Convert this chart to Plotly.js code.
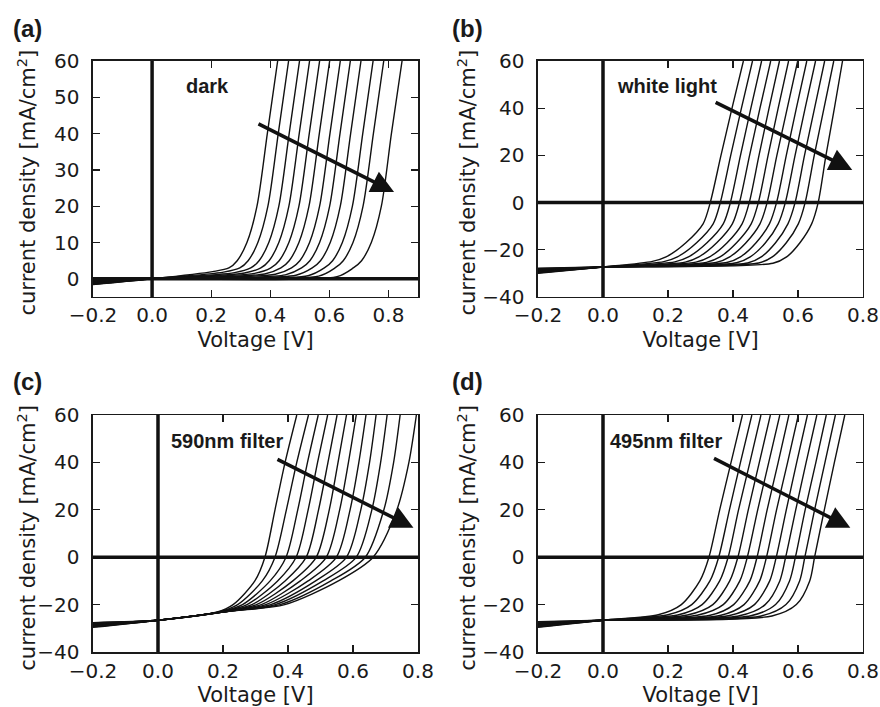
<!DOCTYPE html>
<html>
<head>
<meta charset="utf-8">
<script src="https://cdn.plot.ly/plotly-3.0.1.min.js"></script>
<style>html,body{margin:0;padding:0;background:#fff;}#chart{width:880px;height:707px;}</style>
</head>
<body>
<div id="chart"></div>
<script>
// ---------- DATA ----------
// Each panel: 12 J–V curves. For every curve, the voltage (V) at which it reaches a given current density level (mA/cm²).

// (a) dark
const aVleft = -0.2, aVzero = 0.0, aJzero = 0.0;
const aJleft = [-1.6, -1.5, -1.4, -1.3, -1.2, -1.1, -1.0, -0.9, -0.8, -0.7, -0.55, -0.4];
const aVknee = [0.205, 0.242, 0.279, 0.313, 0.347, 0.381, 0.417, 0.451, 0.487, 0.528, 0.564, 0.626];
const aJknee = [2.0, 1.85, 1.7, 1.6, 1.5, 1.35, 1.25, 1.1, 1.0, 0.85, 0.75, 0.6];
const aV3  = [0.260, 0.297, 0.334, 0.368, 0.402, 0.436, 0.472, 0.506, 0.542, 0.583, 0.619, 0.681];
const aV5  = [0.288, 0.325, 0.362, 0.396, 0.430, 0.464, 0.500, 0.534, 0.570, 0.611, 0.647, 0.709];
const aV10 = [0.321, 0.358, 0.395, 0.429, 0.463, 0.497, 0.533, 0.567, 0.603, 0.644, 0.680, 0.742];
const aV20 = [0.355, 0.392, 0.429, 0.463, 0.497, 0.531, 0.567, 0.601, 0.637, 0.678, 0.714, 0.776];
const aV40 = [0.390, 0.427, 0.464, 0.498, 0.532, 0.566, 0.602, 0.636, 0.672, 0.713, 0.749, 0.810];
const aV60 = [0.425, 0.462, 0.499, 0.533, 0.567, 0.601, 0.637, 0.671, 0.707, 0.748, 0.784, 0.846];

// (b) white light
const bJleft = [-30.0, -29.8, -29.6, -29.4, -29.2, -29.0, -28.8, -28.6, -28.4, -28.2, -28.0, -27.8];
const bJzero = -27.3;
const bVmerge = [0.152, 0.187, 0.221, 0.253, 0.286, 0.318, 0.348, 0.381, 0.411, 0.445, 0.479, 0.523];
const bJmerge = [-24.9, -25.0, -25.1, -25.2, -25.2, -25.3, -25.4, -25.4, -25.5, -25.6, -25.6, -25.7];
const bVm23 = [0.194, 0.229, 0.263, 0.295, 0.328, 0.360, 0.390, 0.423, 0.453, 0.487, 0.521, 0.565];
const bVm17 = [0.255, 0.288, 0.320, 0.350, 0.382, 0.411, 0.440, 0.471, 0.500, 0.531, 0.564, 0.606];
const bVm9  = [0.308, 0.339, 0.370, 0.398, 0.428, 0.456, 0.483, 0.512, 0.539, 0.569, 0.601, 0.642];
const bV0   = [0.330, 0.361, 0.392, 0.420, 0.450, 0.478, 0.505, 0.534, 0.561, 0.591, 0.622, 0.662];
const bV20  = [0.363, 0.393, 0.423, 0.451, 0.480, 0.508, 0.535, 0.564, 0.591, 0.620, 0.650, 0.686];
const bV40  = [0.397, 0.426, 0.455, 0.483, 0.511, 0.539, 0.567, 0.595, 0.622, 0.651, 0.680, 0.712];
const bV60  = [0.432, 0.460, 0.488, 0.516, 0.543, 0.571, 0.599, 0.627, 0.654, 0.682, 0.710, 0.737];

// (c) 590nm filter
const cJleft = [-29.6, -29.4, -29.2, -29.0, -28.8, -28.6, -28.4, -28.2, -28.0, -27.8, -27.7, -27.6];
const cJzero = -26.6;
const cVmerge = [0.180, 0.184, 0.187, 0.191, 0.195, 0.198, 0.202, 0.205, 0.209, 0.213, 0.216, 0.220];
const cJmerge = [-23.2, -23.2, -23.2, -23.1, -23.1, -23.0, -23.0, -23.0, -22.9, -22.9, -22.8, -22.8];
const cVm20 = [0.231, 0.245, 0.260, 0.274, 0.289, 0.303, 0.318, 0.332, 0.347, 0.361, 0.376, 0.390];
const cVm10 = [0.298, 0.321, 0.345, 0.368, 0.391, 0.415, 0.438, 0.462, 0.485, 0.508, 0.532, 0.555];
const cV0   = [0.329, 0.360, 0.394, 0.425, 0.456, 0.487, 0.518, 0.549, 0.580, 0.610, 0.638, 0.662];
const cV20  = [0.360, 0.395, 0.430, 0.462, 0.494, 0.527, 0.559, 0.591, 0.624, 0.658, 0.695, 0.735];
const cV40  = [0.391, 0.427, 0.460, 0.491, 0.523, 0.554, 0.586, 0.618, 0.651, 0.685, 0.725, 0.772];
const cV60  = [0.427, 0.463, 0.493, 0.522, 0.551, 0.580, 0.610, 0.640, 0.671, 0.705, 0.745, 0.795];

// (d) 495nm filter
const dJleft = [-29.6, -29.4, -29.2, -29.0, -28.8, -28.6, -28.3, -28.1, -27.9, -27.7, -27.4, -27.2];
const dJzero = -26.6;
const dVmerge = [0.170, 0.200, 0.230, 0.260, 0.290, 0.330, 0.360, 0.390, 0.420, 0.455, 0.487, 0.520];
const dJmerge = [-24.3, -24.3, -24.4, -24.4, -24.5, -24.5, -24.6, -24.6, -24.7, -24.7, -24.8, -24.8];
const dVm20 = [0.241, 0.273, 0.305, 0.338, 0.370, 0.402, 0.434, 0.466, 0.499, 0.531, 0.563, 0.595];
const dVm10 = [0.298, 0.329, 0.359, 0.390, 0.421, 0.452, 0.482, 0.513, 0.544, 0.574, 0.605, 0.636];
const dV0   = [0.326, 0.356, 0.385, 0.415, 0.444, 0.474, 0.503, 0.533, 0.562, 0.592, 0.621, 0.651];
const dV20  = [0.359, 0.389, 0.417, 0.447, 0.476, 0.505, 0.534, 0.564, 0.593, 0.622, 0.651, 0.681];
const dV40  = [0.394, 0.423, 0.452, 0.481, 0.510, 0.539, 0.568, 0.596, 0.625, 0.655, 0.683, 0.712];
const dV60  = [0.429, 0.458, 0.486, 0.515, 0.544, 0.572, 0.601, 0.629, 0.658, 0.687, 0.715, 0.744];

// labels
const panelLabels = ['(a)', '(b)', '(c)', '(d)'];
const conditionLabels = ['dark', 'white light', '590nm filter', '495nm filter'];
const xTitle = 'Voltage [V]';
const yTitle = 'current density [mA/cm<sup>2</sup>]';

// ---------- BUILD ----------
// each column: [V value(s), J value(s)]
const panels = [
  {xa: 'x',  ya: 'y',  cols: [[aVleft, aJleft], [aVzero, aJzero], [aVknee, aJknee], [aV3, 3], [aV5, 5], [aV10, 10], [aV20, 20], [aV40, 40], [aV60, 60]]},
  {xa: 'x2', ya: 'y2', cols: [[-0.2, bJleft], [0, bJzero], [bVmerge, bJmerge], [bVm23, -23], [bVm17, -17], [bVm9, -9], [bV0, 0], [bV20, 20], [bV40, 40], [bV60, 60]]},
  {xa: 'x3', ya: 'y3', cols: [[-0.2, cJleft], [0, cJzero], [cVmerge, cJmerge], [cVm20, -20], [cVm10, -10], [cV0, 0], [cV20, 20], [cV40, 40], [cV60, 60]]},
  {xa: 'x4', ya: 'y4', cols: [[-0.2, dJleft], [0, dJzero], [dVmerge, dJmerge], [dVm20, -20], [dVm10, -10], [dV0, 0], [dV20, 20], [dV40, 40], [dV60, 60]]}
];
const pick = (c, i) => Array.isArray(c) ? c[i] : c;

const traces = [];
panels.forEach(p => {
  for (let i = 0; i < 12; i++) {
    traces.push({
      type: 'scatter', mode: 'lines',
      x: p.cols.map(c => pick(c[0], i)),
      y: p.cols.map(c => pick(c[1], i)),
      xaxis: p.xa, yaxis: p.ya,
      line: {color: '#111', width: 1.4, shape: 'spline', smoothing: 0.8},
      hoverinfo: 'skip', showlegend: false
    });
  }
});

const FONT = 'DejaVu Sans, Bitstream Vera Sans, sans-serif';
const LABFONT = 'Liberation Sans, Arial, Helvetica, sans-serif';

function xax(dom, anchor, range, standoff) {
  return {
    domain: dom, anchor: anchor, range: range, dtick: 0.2, tick0: 0, tickformat: '.1f',
    showline: true, mirror: 'ticks', linecolor: '#1a1a1a', linewidth: 1.5,
    ticks: 'inside', ticklen: 7, tickwidth: 1.2, tickcolor: '#1a1a1a',
    showgrid: false, zeroline: false,
    tickfont: {family: FONT, size: 20, color: '#1a1a1a'}, ticklabelstandoff: 0,
    title: {text: xTitle, font: {family: FONT, size: 21, color: '#1a1a1a'}, standoff: standoff},
    automargin: false, fixedrange: true
  };
}
function yax(dom, anchor, range, dtick) {
  return {
    domain: dom, anchor: anchor, range: range, dtick: dtick,
    showline: true, mirror: 'ticks', linecolor: '#1a1a1a', linewidth: 1.5,
    ticks: 'inside', ticklen: 7, tickwidth: 1.2, tickcolor: '#1a1a1a',
    showgrid: false, zeroline: false,
    tickfont: {family: FONT, size: 20, color: '#1a1a1a'}, ticklabelstandoff: 8,
    automargin: false, fixedrange: true
  };
}

const XL = [0.10568, 0.475], XR = [0.61136, 0.98068];
const YT = [0.57992, 0.91372], YB = [0.07779, 0.41301];

// thick zero lines as shapes (drawn above curves)
const shapes = [];
[['x', 'y'], ['x2', 'y2'], ['x3', 'y3'], ['x4', 'y4']].forEach(([xa, ya]) => {
  shapes.push({type: 'line', xref: xa + ' domain', yref: ya, x0: 0, x1: 1, y0: 0, y1: 0, line: {color: '#111', width: 3.5}, layer: 'above'});
  shapes.push({type: 'line', xref: xa, yref: ya + ' domain', x0: 0, x1: 0, y0: 0, y1: 1, line: {color: '#111', width: 3.5}, layer: 'above'});
});

const annotations = [];
// panel labels
[[0.0307, 0.959], [0.5307, 0.959], [0.0307, 0.4597], [0.5307, 0.4597]].forEach((pos, k) => {
  annotations.push({xref: 'paper', yref: 'paper', x: pos[0], y: pos[1], text: '<b>' + panelLabels[k] + '</b>',
    showarrow: false, font: {family: LABFONT, size: 24, color: '#1a1a1a'}, xanchor: 'center', yanchor: 'middle'});
});
// y-axis titles (rotated)
[[0.0307, 0.7419], [0.5307, 0.7419], [0.0303, 0.2390], [0.5303, 0.2390]].forEach(pos => {
  annotations.push({xref: 'paper', yref: 'paper', x: pos[0], y: pos[1], text: yTitle, textangle: -90,
    showarrow: false, font: {family: FONT, size: 21, color: '#1a1a1a'}, xanchor: 'center', yanchor: 'middle'});
});
// condition labels and arrows
const textPos = [[0.188, 53.1], [0.197, 49.4], [0.213, 48.9], [0.195, 48.9]];
const arrowTail = [[0.355, 42.9], [0.342, 42.8], [0.363, 41.6], [0.337, 42.0]];
const arrowTip = [[0.819, 23.9], [0.767, 13.8], [0.786, 12.4], [0.761, 12.4]];
['', '2', '3', '4'].forEach((s, k) => {
  annotations.push({xref: 'x' + s, yref: 'y' + s, x: textPos[k][0], y: textPos[k][1], text: '<b>' + conditionLabels[k] + '</b>',
    showarrow: false, font: {family: LABFONT, size: 20, color: '#1a1a1a'}, xanchor: 'center', yanchor: 'middle'});
  annotations.push({xref: 'x' + s, yref: 'y' + s, axref: 'x' + s, ayref: 'y' + s,
    x: arrowTip[k][0], y: arrowTip[k][1], ax: arrowTail[k][0], ay: arrowTail[k][1],
    text: '', showarrow: true, arrowhead: 2, arrowsize: 1.3, arrowwidth: 3.5, arrowcolor: '#111'});
});

const layout = {
  width: 880, height: 707,
  margin: {l: 0, r: 0, t: 0, b: 0},
  paper_bgcolor: '#fff', plot_bgcolor: '#fff',
  showlegend: false,
  xaxis: xax(XL, 'y', [-0.2, 0.9], 6),
  yaxis: yax(YT, 'x', [-5, 60], 10),
  xaxis2: xax(XR, 'y2', [-0.2, 0.8], 6),
  yaxis2: yax(YT, 'x2', [-40, 60], 20),
  xaxis3: xax(XL, 'y3', [-0.2, 0.8], 10),
  yaxis3: yax(YB, 'x3', [-40, 60], 20),
  xaxis4: xax(XR, 'y4', [-0.2, 0.8], 10),
  yaxis4: yax(YB, 'x4', [-40, 60], 20),
  shapes: shapes,
  annotations: annotations
};

Plotly.newPlot('chart', traces, layout, {displayModeBar: false, staticPlot: true});
</script>
</body>
</html>
